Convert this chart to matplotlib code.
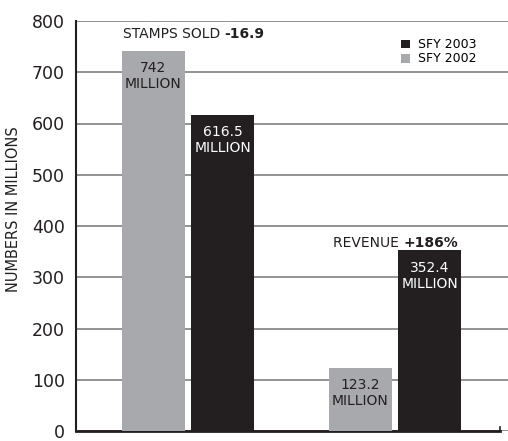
import matplotlib.pyplot as plt
import numpy as np

groups = ["STAMPS SOLD", "REVENUE"]
sfy2002 = [742, 123.2]
sfy2003 = [616.5, 352.4]
labels2002 = ["742\nMILLION", "123.2\nMILLION"]
labels2003 = ["616.5\nMILLION", "352.4\nMILLION"]
yticks = [0, 100, 200, 300, 400, 500, 600, 700, 800]

gray = "#a7a9ac"
black = "#231f20"

fig = plt.figure(figsize=(5.08, 4.41), dpi=100)
ax = fig.add_axes([76/508, 10/441, 432/508, 410/441])

x = np.arange(len(groups))
w = 0.304
off = 0.167
b1 = ax.bar(x - off, sfy2002, w, color=gray, zorder=3)
b2 = ax.bar(x + off, sfy2003, w, color=black, zorder=3)

for xi, v, lab in zip(x - off, sfy2002, labels2002):
    ax.text(xi, v - 20, lab, ha="center", va="top", fontsize=10,
            color=black, linespacing=1.2, zorder=4)
for xi, v, lab in zip(x + off, sfy2003, labels2003):
    ax.text(xi, v - 20, lab, ha="center", va="top", fontsize=10,
            color="white", linespacing=1.2, zorder=4)

ax.set_xlim(-0.541, 1.546)
ax.set_ylim(0, 800)
ax.set_yticks(yticks)
ax.tick_params(axis="y", length=0, labelsize=12.5, pad=8, colors=black)
ax.set_xticks([])
ax.grid(axis="y", color="#808080", linewidth=1.2, zorder=1)

for s in ["top", "right"]:
    ax.spines[s].set_visible(False)
ax.spines["left"].set_linewidth(1.5)
ax.spines["left"].set_color(black)
ax.spines["bottom"].set_linewidth(2)
ax.spines["bottom"].set_color(black)
ax.spines["bottom"].set_bounds(-0.541, 1.507)
ax.plot([1.507, 1.507], [0, 8], color=black, lw=1.2, clip_on=False, zorder=5)

ax.set_ylabel("NUMBERS IN MILLIONS", fontsize=10.5, color=black)
ax.yaxis.set_label_coords(-0.127, 0.54)

# titles over each group, bold part placed after the plain part
t1 = fig.text(123/508, 1 - 34/441, "STAMPS SOLD ", fontsize=10, va="center", color=black)
t2 = fig.text(333/508, 1 - 243/441, "REVENUE ", fontsize=10, va="center", color=black)
fig.canvas.draw()
r = fig.canvas.get_renderer()
bb1 = t1.get_window_extent(r)
bb2 = t2.get_window_extent(r)
fig.text(bb1.x1 / fig.bbox.width, 1 - 34/441, "-16.9", fontsize=10, fontweight="bold",
         va="center", color=black)
fig.text(bb2.x1 / fig.bbox.width, 1 - 243/441, "+186%", fontsize=10, fontweight="bold",
         va="center", color=black)

# legend
ax.legend(handles=[b2, b1], labels=["SFY 2003", "SFY 2002"], loc="upper left",
          bbox_to_anchor=(395/508, 1 - 32/441), bbox_transform=fig.transFigure,
          frameon=False, fontsize=9, handlelength=0.7, handleheight=0.7,
          handletextpad=0.6, labelspacing=0.1, borderpad=0)

fig.savefig("out.png", dpi=100)
